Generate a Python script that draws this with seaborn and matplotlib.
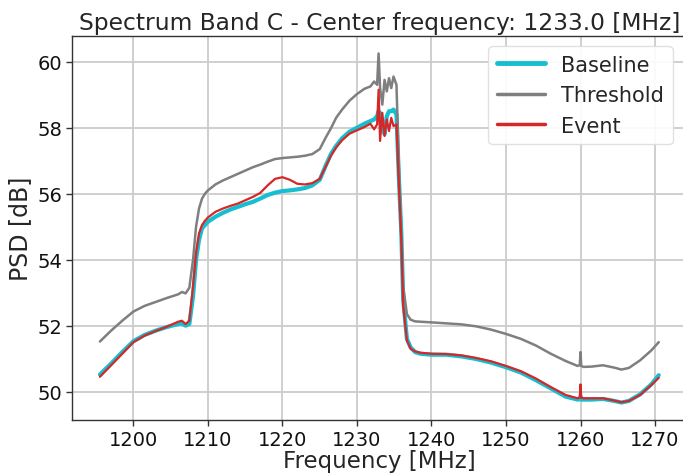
import matplotlib
matplotlib.use("Agg")
import matplotlib.pyplot as plt
import seaborn as sns
import pandas as pd

freq = [1195.5, 1197, 1198.5, 1200, 1201.5, 1203, 1204.5, 1206, 1206.5, 1207,
        1207.5, 1208, 1208.4, 1208.8, 1209.2, 1209.6, 1210, 1211, 1212, 1213,
        1214, 1215, 1216, 1217, 1218, 1219, 1220, 1221, 1222, 1223,
        1224, 1225, 1225.8, 1226.5, 1227.2, 1228, 1229, 1230, 1231, 1231.8,
        1232.3, 1232.7, 1232.9, 1233.1, 1233.4, 1233.7, 1234, 1234.3, 1234.6, 1234.9,
        1235.3, 1235.6, 1235.95, 1236.2, 1236.7, 1237.2, 1237.8, 1238.5, 1240, 1242,
        1244, 1246, 1248, 1250, 1252, 1254, 1256, 1258, 1259.6, 1259.9,
        1260, 1260.1, 1260.4, 1261.5, 1263, 1264.5, 1265.5, 1266.5, 1268, 1269.5,
        1270.5]

threshold = [51.52, 51.85, 52.15, 52.43, 52.6, 52.72, 52.84, 52.95, 53.02, 52.98,
             53.15, 54.0, 55.0, 55.55, 55.85, 56.0, 56.1, 56.28, 56.4, 56.5,
             56.6, 56.7, 56.8, 56.88, 56.97, 57.05, 57.08, 57.1, 57.12, 57.15,
             57.2, 57.35, 57.7, 57.98, 58.3, 58.55, 58.82, 59.02, 59.18, 59.25,
             59.4, 59.3, 60.25, 59.2, 58.7, 59.45, 59.1, 59.5, 59.2, 59.55,
             59.3, 57.0, 54.6, 53.2, 52.35, 52.18, 52.13, 52.12, 52.1, 52.07,
             52.04, 51.98, 51.88, 51.75, 51.6, 51.4, 51.15, 50.93, 50.78, 50.8,
             51.2, 50.78, 50.75, 50.76, 50.8, 50.73, 50.67, 50.72, 50.95, 51.25,
             51.5]

baseline = [50.52, 50.85, 51.2, 51.53, 51.72, 51.85, 51.96, 52.05, 52.07, 52.0,
            52.05, 52.9, 54.0, 54.6, 54.95, 55.05, 55.15, 55.3, 55.42, 55.52,
            55.6, 55.68, 55.75, 55.85, 55.96, 56.03, 56.08, 56.1, 56.13, 56.17,
            56.25, 56.42, 56.85, 57.2, 57.45, 57.68, 57.88, 58.0, 58.12, 58.2,
            58.25, 58.35, 58.5, 58.45, 58.1, 57.8, 58.35, 58.5, 58.5, 58.55,
            58.4, 56.6, 54.8, 52.8, 51.6, 51.34, 51.2, 51.15, 51.12, 51.12,
            51.07, 50.99, 50.88, 50.74, 50.58, 50.35, 50.1, 49.85, 49.76, 49.77,
            49.85, 49.76, 49.76, 49.76, 49.78, 49.72, 49.67, 49.72, 49.92, 50.22,
            50.5]

event = [50.45, 50.8, 51.15, 51.5, 51.7, 51.84, 51.97, 52.12, 52.15, 52.05,
         52.15, 53.2, 54.2, 54.8, 55.05, 55.18, 55.28, 55.45, 55.55, 55.63,
         55.7, 55.8, 55.9, 56.02, 56.25, 56.45, 56.5, 56.42, 56.3, 56.28,
         56.32, 56.45, 56.82, 57.15, 57.4, 57.62, 57.82, 57.92, 58.02, 58.12,
         57.95, 58.1, 59.15, 57.6, 58.45, 57.75, 58.25, 57.9, 58.3, 58.05,
         58.1, 56.4, 54.6, 52.6, 51.55, 51.3, 51.22, 51.18, 51.15, 51.14,
         51.1, 51.02, 50.92, 50.78, 50.62, 50.4, 50.14, 49.9, 49.8, 49.82,
         50.22, 49.82, 49.8, 49.8, 49.8, 49.73, 49.68, 49.72, 49.9, 50.2,
         50.42]

x_ticks = [1200, 1210, 1220, 1230, 1240, 1250, 1260, 1270]
y_ticks = [50, 52, 54, 56, 58, 60]
title = "Spectrum Band C - Center frequency: 1233.0 [MHz]"

sns.set_style("whitegrid", {"grid.color": "#cccccc", "axes.edgecolor": "#333333",
                            "xtick.bottom": True, "ytick.left": True})
plt.rcParams["font.family"] = ["DejaVu Sans"]

fig = plt.figure(figsize=(6.83, 4.77), dpi=100)
ax = fig.add_axes([0.1054, 0.1174, 0.9, 0.805])

df = pd.DataFrame({"freq": freq, "Baseline": baseline, "Threshold": threshold, "Event": event})

sns.lineplot(data=df, x="freq", y="Baseline", ax=ax, color="#17becf", linewidth=3.0, label="Baseline")
sns.lineplot(data=df, x="freq", y="Threshold", ax=ax, color="#7f7f7f", linewidth=1.8, label="Threshold")
sns.lineplot(data=df, x="freq", y="Event", ax=ax, color="#d62728", linewidth=1.6, label="Event")

ax.set_xticks(x_ticks)
ax.set_yticks(y_ticks)
ax.tick_params(axis="both", labelsize=14, length=4, width=1, pad=3,
               color="#333333", labelcolor="#111111")
ax.grid(True, color="#cccccc", linewidth=1.3)
ax.set_xlabel("Frequency [MHz]", fontsize=16.5, labelpad=0)
ax.set_ylabel("PSD [dB]", fontsize=17)
ax.set_title(title, fontsize=16.8, pad=5)
ax.spines["right"].set_visible(False)
for s in ["left", "bottom", "top"]:
    ax.spines[s].set_linewidth(1.0)

leg = ax.legend(loc="upper right", bbox_to_anchor=(0.994, 1.0), fontsize=15, handlelength=2.3,
                borderaxespad=0.5, framealpha=0.9, edgecolor="#dddddd")
for line in leg.get_lines():
    if line.get_label() == "Baseline":
        line.set_linewidth(3.5)
    else:
        line.set_linewidth(2.5)

fig.savefig("out.png", dpi=100)
